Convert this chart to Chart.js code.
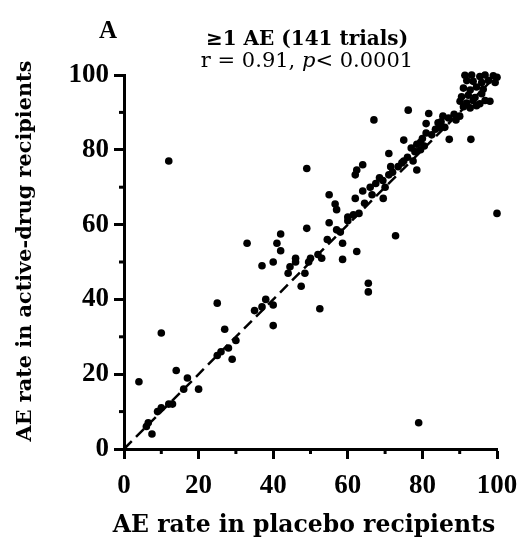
<!DOCTYPE html>
<html><head><meta charset="utf-8">
<script src="https://cdn.jsdelivr.net/npm/chart.js@4.4.1/dist/chart.umd.min.js"></script>
<style>html,body{margin:0;padding:0;background:#fff}#wrap{width:523px;height:546px;position:relative}</style>
</head><body><div id="wrap"><canvas id="c"></canvas></div>
<script>
const panelLabel = 'A';
const chartTitle = '≥1 AE (141 trials)';
const statParts = ['r = 0.91, ', 'p', '< 0.0001'];
const xTitle = 'AE rate in placebo recipients';
const yTitle = 'AE rate in active-drug recipients';
const minorTicks = [10, 30, 50, 70, 90];
const refLineX = [0, 100];
const refLineY = [0, 100];

const placeboRate = [4,10,14,17,20,16,13,12,10,9,6.5,6,7.5,12,25,27,29,28,25,26,30,33,37,40,37,40,40,42,41,42,44.5,44,46,49,49.5,53,48.5,47.5,52.5,49,55,57,58,58.6,58.6,62.4,65.5,65.5,55,56.6,57,61.5,63,62,64.5,64,69.5,64,62.4,62,69.4,71,67,71,72.8,79,100,75,78.5,76.2,81.7,81,84.2,87.2,93,95.4,96.8,98.1,91.4,93.2,95.4,96.8,99,100,91.9,93.6,95.9,97.7,99.5,91,92.8,94.5,96.3,90.5,92.3,94.1,95.9,90.1,91.9,93.6,91,92.8,94.5,85.5,87,88.5,90,89,77,78.5,80,81,82.5,83.5,84.5,85,79.5,76,77.5,78,79.5,80.5,73.5,74.5,75,72,71.5,66,67.5,68.5,60,60,52,54.5,46,38,35,50,66.5,70,86];
const activeRate = [18,31,21,19,16,16,12,12,11,10,7,6,4,77,39,32,24,27,25,26,29,55,49,50,38,38.5,33,57.5,55,53,48.7,47,51,59,50,51,47,43.5,37.5,75,60.5,58.6,58,55,50.7,52.8,44.3,42,68,65.5,64,62.6,63,67,65.7,69,67,76,74.6,73.3,71.8,73.3,88,79,57,7,63,82.6,74.6,90.6,89.7,87,87.2,82.8,82.8,92.3,93.2,93,99.9,100,99.6,100,99.8,99.4,98.5,98.3,98,98.5,98,96.5,96,96.8,96.2,94.2,94.6,94,95,93,92.5,93.2,91.5,91.2,91.8,89,88.5,89.5,89,88,80.5,81.5,83,84.5,84,85.5,86,87.5,82,78,77,79.5,80,81,75.5,76.5,77,74,75.5,70,71,72.5,61,62,52,56,50,40,37,51,68,70,86];

const FONT = "'Liberation Serif', 'Times New Roman', serif";
const WIDE = "'DejaVu Serif', serif";
const points = placeboRate.map((x, i) => ({ x: x, y: activeRate[i] }));
const refLine = refLineX.map((x, i) => ({ x: x, y: refLineY[i] }));

const decor = {
  id: 'decor',
  afterDraw(chart) {
    const ctx = chart.ctx;
    const xs = chart.scales.x, ys = chart.scales.y;
    ctx.save();
    ctx.strokeStyle = '#000';
    ctx.lineWidth = 3;
    minorTicks.forEach(v => {
      const px = xs.getPixelForValue(v);
      ctx.beginPath(); ctx.moveTo(px, xs.top); ctx.lineTo(px, xs.top + 5); ctx.stroke();
      const py = ys.getPixelForValue(v);
      ctx.beginPath(); ctx.moveTo(ys.right, py); ctx.lineTo(ys.right - 5, py); ctx.stroke();
    });
    ctx.fillStyle = '#000';
    ctx.textBaseline = 'alphabetic';
    ctx.font = 'bold 25px ' + FONT;
    ctx.textAlign = 'left';
    ctx.fillText(panelLabel, 99, 38);
    const cx = 307;
    ctx.textAlign = 'center';
    ctx.font = 'bold 20px ' + WIDE;
    ctx.fillText(chartTitle, cx, 45);
    const fR = '21px ' + WIDE, fI = 'italic 21px ' + WIDE;
    ctx.font = fR; const w0 = ctx.measureText(statParts[0]).width;
    ctx.font = fI; const w1 = ctx.measureText(statParts[1]).width;
    ctx.font = fR; const w2 = ctx.measureText(statParts[2]).width;
    let x0 = cx - (w0 + w1 + w2) / 2;
    ctx.textAlign = 'left';
    ctx.font = fR; ctx.fillText(statParts[0], x0, 67);
    ctx.font = fI; ctx.fillText(statParts[1], x0 + w0, 67);
    ctx.font = fR; ctx.fillText(statParts[2], x0 + w0 + w1, 67);
    ctx.textAlign = 'center';
    ctx.font = 'bold 23.5px ' + WIDE;
    ctx.fillText(xTitle, 304, 532);
    ctx.save();
    ctx.translate(31, 251);
    ctx.rotate(-Math.PI / 2);
    ctx.font = 'bold 20.8px ' + WIDE;
    ctx.fillText(yTitle, 0, 0);
    ctx.restore();
    ctx.restore();
  }
};

const axisCommon = () => ({
  type: 'linear', min: 0, max: 100,
  border: { display: true, color: '#000', width: 3 },
  grid: { display: true, drawOnChartArea: false, drawTicks: true, tickLength: 10, tickWidth: 3, tickColor: '#000', color: '#000' },
  ticks: { stepSize: 20, color: '#000', padding: 4, font: { family: FONT, size: 27, weight: 'bold' } },
  title: { display: false }
});

const xOpt = axisCommon();
xOpt.ticks.padding = 11;
xOpt.afterFit = s => { s.height = 97; s.paddingLeft = 0; s.paddingRight = 0; };
const yOpt = axisCommon();
yOpt.ticks.padding = 5;
yOpt.afterFit = s => { s.width = 124; s.paddingTop = 0; s.paddingBottom = 0; };

new Chart(document.getElementById('c'), {
  type: 'scatter',
  data: {
    datasets: [
      { data: refLine, type: 'line', borderColor: '#000', borderWidth: 2.5, borderDash: [11, 6], pointRadius: 0, fill: false, clip: false, order: 2 },
      { data: points, backgroundColor: '#000', borderColor: '#000', pointRadius: 3.8, pointHoverRadius: 3.8, borderWidth: 0, clip: false, order: 1 }
    ]
  },
  options: {
    responsive: true, maintainAspectRatio: false, animation: false,
    layout: { padding: { top: 75, right: 26, left: 0, bottom: 0 } },
    plugins: { legend: { display: false }, tooltip: { enabled: false }, title: { display: false } },
    scales: { x: xOpt, y: yOpt }
  },
  plugins: [decor]
});
</script></body></html>
